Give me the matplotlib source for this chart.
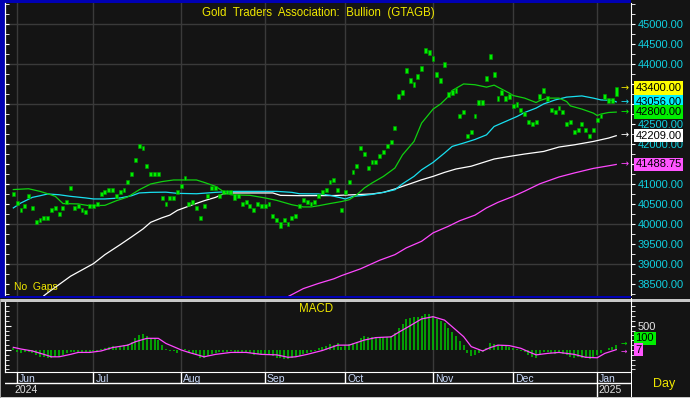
import numpy as np
import pandas as pd
import matplotlib
matplotlib.use('Agg')
import matplotlib.pyplot as plt
from matplotlib import transforms
from matplotlib.patches import Rectangle
from matplotlib.ticker import MultipleLocator, FuncFormatter

plt.rcParams['font.family'] = ['Liberation Sans', 'DejaVu Sans']

# ---- data ----
# daily bars (high / low), one per trading day starting 2024-05-31
bar_high = [40810, 40585, 40410, 40510, 40760, 40460, 40110, 40160, 40210, 40210,
            40410, 40460, 40310, 40460, 40610, 40960, 40460, 40510, 40410, 40360,
            40510, 40510, 40560, 40810, 40860, 40910, 40910, 40760, 40860, 40910,
            41110, 41310, 41660, 42010, 41960, 41510, 41310, 41310, 41310, 40710,
            40560, 40710, 40710, 40860, 41010, 41210, 40560, 40610, 40460, 40210,
            40510, 40760, 40960, 40960, 40760, 40860, 40860, 40860, 40750, 40760,
            40560, 40610, 40510, 40410, 40560, 40510, 40510, 40560, 40260, 40160,
            40050, 40160, 40060, 40210, 40260, 40510, 40660, 40610, 40560, 40610,
            40760, 40860, 40910, 41110, 41160, 40910, 40410, 40860, 41110, 41360,
            41510, 41960, 41810, 41460, 41610, 41610, 41760, 41860, 42010, 42110,
            42460, 43260, 43360, 43910, 43660, 43560, 43760, 43960, 44410, 44360,
            44210, 43810, 43660, 44060, 43310, 43360, 43410, 42760, 42860, 42260,
            42360, 42760, 43110, 43110, 43710, 44260, 43810, 43210, 43360, 43210,
            43260, 43010, 43060, 42910, 42810, 42610, 42560, 42610, 43260, 43410,
            43210, 42910, 42860, 42960, 42860, 42560, 42610, 42360, 42410, 42560,
            42410, 42260, 42410, 42660, 42760, 43260, 43160, 43160, 43425]
bar_low = [40690, 40465, 40290, 40390, 40640, 40340, 39990, 40040, 40090, 40090,
           40290, 40340, 40190, 40340, 40490, 40840, 40340, 40390, 40290, 40240,
           40390, 40390, 40440, 40690, 40740, 40790, 40790, 40640, 40740, 40790,
           40990, 41190, 41540, 41890, 41840, 41390, 41190, 41190, 41190, 40590,
           40440, 40590, 40590, 40740, 40890, 41090, 40440, 40490, 40340, 40090,
           40390, 40640, 40840, 40840, 40640, 40740, 40740, 40740, 40590, 40640,
           40440, 40490, 40390, 40290, 40440, 40390, 40390, 40440, 40140, 40040,
           39900, 40040, 39940, 40090, 40140, 40390, 40540, 40490, 40440, 40490,
           40640, 40740, 40790, 40990, 41040, 40790, 40290, 40740, 40990, 41240,
           41390, 41840, 41690, 41340, 41490, 41490, 41640, 41740, 41890, 41990,
           42340, 43140, 43240, 43790, 43540, 43440, 43640, 43840, 44290, 44240,
           44090, 43690, 43540, 43940, 43190, 43240, 43290, 42640, 42740, 42140,
           42240, 42640, 42990, 42990, 43590, 44140, 43690, 43090, 43240, 43090,
           43140, 42890, 42940, 42790, 42690, 42490, 42440, 42490, 43140, 43290,
           43090, 42790, 42740, 42840, 42740, 42440, 42490, 42240, 42290, 42440,
           42290, 42140, 42290, 42540, 42640, 43140, 43040, 43040, 43200]

# moving averages, read at (bar index, value)
ma_short_idx = [0, 4, 7, 9, 11, 13, 17, 20, 24, 27, 30, 33, 36, 39, 42, 48, 50, 53, 55, 57,
                62, 66, 69, 73, 76, 78, 80, 83, 86, 88, 90, 92, 94, 97, 100, 102, 105, 107,
                110, 112, 114, 115, 118, 121, 124, 126, 128, 130, 131, 134, 137, 138, 140,
                143, 145, 146, 149, 152, 153, 154, 156, 158]
ma_short_val = [40860, 40880, 40815, 40755, 40690, 40510, 40500, 40455, 40465, 40580, 40675,
                40855, 41000, 41060, 41100, 41100, 41040, 40940, 40815, 40730, 40715, 40650,
                40590, 40480, 40425, 40425, 40455, 40510, 40560, 40605, 40730, 40900, 41025,
                41190, 41400, 41730, 42065, 42525, 42875, 43005, 43190, 43340, 43505, 43485,
                43425, 43475, 43375, 43275, 43215, 43150, 43040, 43090, 43150, 43150, 43065,
                42955, 42875, 42775, 42715, 42750, 42790, 42800]

ma_mid_idx = [0, 2, 5, 7, 9, 12, 15, 19, 21, 24, 28, 31, 33, 36, 40, 43, 48, 53, 58, 69,
              73, 75, 80, 83, 86, 87, 89, 92, 94, 97, 100, 102, 105, 107, 110, 113, 115,
              118, 121, 124, 126, 129, 132, 134, 137, 139, 142, 145, 147, 149, 152, 154,
              157, 158]
ma_mid_val = [40400, 40525, 40665, 40705, 40750, 40730, 40690, 40650, 40625, 40625, 40650,
              40705, 40775, 40790, 40795, 40765, 40755, 40790, 40815, 40815, 40790, 40755,
              40750, 40715, 40650, 40625, 40690, 40715, 40740, 40790, 40855, 41005, 41190,
              41355, 41540, 41775, 41940, 42025, 42115, 42230, 42440, 42565, 42690, 42790,
              42900, 43005, 43105, 43175, 43190, 43205, 43150, 43105, 43095, 43056]

ma_long_idx = [8, 9, 15, 21, 24, 28, 31, 34, 36, 39, 41, 43, 47, 50, 53, 55, 57, 68, 70, 75,
               84, 89, 94, 97, 100, 104, 107, 110, 113, 116, 120, 123, 126, 130, 134, 139,
               143, 147, 152, 156, 158]
ma_long_val = [38200, 38275, 38690, 39005, 39230, 39480, 39675, 39875, 40040, 40155, 40220,
               40340, 40480, 40580, 40665, 40750, 40775, 40775, 40715, 40707, 40710, 40730,
               40750, 40790, 40875, 41005, 41105, 41190, 41290, 41375, 41445, 41535, 41625,
               41690, 41750, 41815, 41925, 41980, 42065, 42150, 42209]

ma_200_idx = [72, 76, 80, 84, 86, 91, 96, 100, 103, 107, 110, 114, 117, 121, 124, 127, 131,
              134, 138, 143, 147, 152, 156, 158]
ma_200_val = [38180, 38380, 38510, 38625, 38705, 38875, 39090, 39230, 39400, 39565, 39775,
              39940, 40080, 40220, 40400, 40540, 40690, 40820, 41005, 41175, 41275, 41390,
              41455, 41488.75]

# MACD histogram, one per bar
macd_hist = [35, -35, -70, -50, -35, -55, -100, -150, -140, -170,
             -160, -140, -140, -100, -70, -35, -35, -35, -35, -50,
             -50, -20, -20, 20, 35, 70, 80, 55, 70, 100,
             115, 170, 240, 310, 320, 295, 255, 240, 205, 100,
             20, -20, -20, -70, 5, 20, -70, -90, -100, -170,
             -160, -120, -90, -70, -50, -50, -35, -20, -35, -50,
             -50, -70, -70, -100, -90, -90, -90, -90, -115, -160,
             -170, -185, -185, -170, -150, -115, -90, -70, -50, -20,
             35, 70, 90, 115, 100, 135, 70, 100, 115, 135,
             170, 255, 295, 275, 275, 275, 275, 275, 275, 295,
             345, 445, 530, 640, 665, 680, 680, 705, 735, 750,
             705, 640, 595, 550, 460, 365, 295, 190, 100, -70,
             -125, -100, -70, -35, 35, 150, 115, 100, 100, 100,
             70, 50, 20, -20, -50, -100, -140, -170, -90, -35,
             -50, -70, -90, -70, -90, -100, -140, -160, -150, -170,
             -170, -185, -170, -100, -70, 10, 35, 70, 100]

# MACD signal line, read at (bar index, value)
signal_idx = [0, 2, 5, 8, 10, 12, 15, 17, 20, 23, 26, 30, 32, 35, 38, 40, 43, 44, 46, 50,
              53, 57, 61, 65, 69, 72, 74, 77, 80, 81, 85, 88, 92, 95, 99, 101, 104, 107,
              110, 113, 115, 118, 120, 123, 125, 127, 130, 133, 135, 137, 140, 143, 147,
              150, 153, 155, 158]
signal_val = [55, 20, -20, -90, -140, -140, -90, -50, -50, -20, 50, 100, 170, 240, 240, 135,
              35, 0, -50, -140, -90, -50, -50, -90, -100, -150, -140, -90, -30, -10, 100,
              100, 205, 255, 270, 365, 500, 640, 685, 615, 480, 275, 70, -20, 50, 100, 90,
              35, -35, -100, -70, -50, -90, -150, -160, -70, 7]

last_labels = ['43400.00', '43056.00', '42800.00', '42209.00', '41488.75']
last_values = [43400, 43056, 42800, 42209, 41488.75]
# axis labels fully covered by the last-value boxes in the original
hidden_ticks = [43500, 43000, 41500]

# ---- layout ----
W, H = 690, 398
BG = '#141414'
GRID = '#3a3a3a'
CYAN = '#18e0f0'
MAGENTA = '#ff48ff'
YELLOW = '#f0e800'
BLUE = '#0000b4'

n = len(bar_high)
x = np.arange(n)
dates = pd.bdate_range('2024-05-31', periods=n)
month_idx = [i for i in range(1, n) if dates[i].month != dates[i - 1].month]
month_lbl = [dates[i].strftime('%b') for i in month_idx]
year_idx = [i for i in month_idx if dates[i].month == 1]
XLIM = (-2.18, 161.87)


def pbox(x0, y0, x1, y1):
    return [x0 / W, 1 - y1 / H, (x1 - x0) / W, (y1 - y0) / H]


def frect(x0, y0, x1, y1, color):
    fig.add_artist(Rectangle((x0 / W, 1 - y1 / H), (x1 - x0) / W, (y1 - y0) / H,
                             transform=fig.transFigure, color=color, zorder=-1, lw=0))


def price_fmt(v, p):
    if round(v) in hidden_ticks:
        return ''
    return f'{v:.2f}'


fig = plt.figure(figsize=(W / 100, H / 100), dpi=100, facecolor=BG)
frect(0, 0, 631, 297.7, BLUE)
frect(0, 299, W, 301.5, '#c8c8c8')
frect(0, 396.5, W, H, '#c8c8c8')
frect(0, 299, 1, H, '#a0a0a0')
frect(631, 297.7, 632.2, 396.5, 'white')

# ---- main price panel ----
ax = fig.add_axes(pbox(5, 3, 631, 295.5), facecolor=BG)
ax.set_xlim(*XLIM)
ax.set_ylim(38207, 45532)
for m in month_idx:
    ax.axvline(m, color=GRID, lw=1, zorder=0)
for lvl in range(39000, 45001, 1000):
    ax.axhline(lvl, color=GRID, lw=1, zorder=0)

ax.plot(ma_200_idx, ma_200_val, color=MAGENTA, lw=0.9, zorder=2)
ax.plot(ma_long_idx, ma_long_val, color='white', lw=0.9, zorder=2)
ax.plot(ma_mid_idx, ma_mid_val, color=CYAN, lw=0.9, zorder=2)
ax.plot(ma_short_idx, ma_short_val, color='#10d010', lw=0.9, zorder=2)
hi = np.array(bar_high)
lo = np.array(bar_low)
ax.bar(x, hi - lo, bottom=lo, width=0.75, color='#00f000', edgecolor='#009a00',
       linewidth=0.4, zorder=3)

ax.yaxis.tick_right()
ax.set_yticks(np.arange(38500, 45001, 500))
ax.yaxis.set_minor_locator(MultipleLocator(250))
ax.yaxis.set_major_formatter(FuncFormatter(price_fmt))
ax.tick_params(axis='y', which='both', direction='out', length=3, color='white',
               labelcolor='#10d0e0', labelsize=8, pad=2)
ax.set_xticks([])
for s in ['top', 'bottom']:
    ax.spines[s].set_visible(False)
ax.spines['left'].set_color('white')
ax.spines['right'].set_color('white')

sec = ax.secondary_yaxis('left')
sec.set_yticks(np.arange(38500, 45001, 500))
sec.yaxis.set_minor_locator(MultipleLocator(250))
sec.tick_params(which='both', direction='in', length=3, color='white', labelleft=False)
sec.spines['left'].set_color('white')

blend = transforms.blended_transform_factory(ax.transAxes, ax.transData)
box_colors = [YELLOW, CYAN, '#00f000', 'white', MAGENTA]
box_face = ['#ffff00', '#00f0ff', '#00ee00', '#ffffff', '#ff55ff']
for lbl, v, c, fc in zip(last_labels, last_values, box_colors, box_face):
    ax.text(0.983, v, '→', transform=blend, color=c, fontsize=7, va='center',
            ha='left', family=['DejaVu Sans'], clip_on=False, zorder=10)
    ax.text(1.0072, v, lbl, transform=blend, color='black', fontsize=8, va='center',
            ha='left', clip_on=False, zorder=10,
            bbox=dict(facecolor=fc, edgecolor='none', pad=1.2))

ax.text(0.5, 0.985, 'Gold  Traders  Association:  Bullion  (GTAGB)',
        transform=ax.transAxes, color=YELLOW, fontsize=8.3, ha='center', va='top')
ax.text(0.0145, 0.012, 'No  Gaps', transform=ax.transAxes, color=YELLOW,
        fontsize=7.5, ha='left', va='bottom')

# ---- MACD panel ----
ax2 = fig.add_axes(pbox(5, 301.5, 631, 372.3), facecolor=BG)
ax2.set_xlim(*XLIM)
ax2.set_ylim(-459, 998)
for m in month_idx:
    ax2.axvline(m, color=GRID, lw=1, zorder=0)
ax2.vlines(x, 0, macd_hist, color='#00c800', lw=1.1, zorder=2)
ax2.plot(signal_idx, signal_val, color=MAGENTA, lw=0.9, zorder=3)

ax2.yaxis.tick_right()
ax2.set_yticks([500])
ax2.yaxis.set_minor_locator(MultipleLocator(100))
ax2.tick_params(axis='y', which='both', direction='out', length=3, color='white',
                labelcolor='#e8e8e8', labelsize=8, pad=2)
ax2.set_xticks([])
ax2.spines['top'].set_visible(False)
for s in ['left', 'right', 'bottom']:
    ax2.spines[s].set_color('white')

sec2 = ax2.secondary_yaxis('left')
sec2.set_yticks([0, 500])
sec2.yaxis.set_minor_locator(MultipleLocator(100))
sec2.tick_params(which='major', direction='in', length=4, color='white', labelleft=False)
sec2.tick_params(which='minor', direction='in', length=3, color='white')
sec2.spines['left'].set_color('white')

blend2 = transforms.blended_transform_factory(ax2.transAxes, ax2.transData)
ax2.annotate('→', xy=(0.984, macd_hist[-1]), xycoords=blend2, xytext=(0, 1),
             textcoords='offset points', color='#00e000', fontsize=5.5, va='center',
             family=['DejaVu Sans'], annotation_clip=False, zorder=10)
ax2.annotate('→', xy=(0.984, signal_val[-1]), xycoords=blend2, xytext=(0, -1),
             textcoords='offset points', color=MAGENTA, fontsize=5.5, va='center',
             family=['DejaVu Sans'], annotation_clip=False, zorder=10)
ax2.annotate('100', xy=(1.0072, macd_hist[-1]), xycoords=blend2, xytext=(0, 5),
             textcoords='offset points', color='black', fontsize=8, va='center',
             annotation_clip=False, zorder=10,
             bbox=dict(facecolor='#00ee00', edgecolor='none', pad=1.2))
ax2.annotate('7', xy=(1.0072, signal_val[-1]), xycoords=blend2, xytext=(0, 0),
             textcoords='offset points', color='black', fontsize=8, va='center',
             annotation_clip=False, zorder=10,
             bbox=dict(facecolor='#ff55ff', edgecolor='none', pad=1.2))
ax2.text(0.497, 0.9, 'MACD', transform=ax2.transAxes, color=YELLOW, fontsize=8.3,
         ha='center', va='center')

# ---- date strip ----
ax3 = fig.add_axes(pbox(5, 372.3, 631, 396.5), facecolor=BG)
ax3.set_xlim(*XLIM)
ax3.set_ylim(0, 1)
ax3.axis('off')
mid = (396.5 - 383.3) / (396.5 - 372.3)
ax3.axhline(mid, color='white', lw=1)
ax3.vlines(month_idx, mid, 1, color='white', lw=1)
ax3.vlines(year_idx, 0, mid, color='white', lw=1)
for m, lbl in zip(month_idx, month_lbl):
    ax3.text(m + 0.5, 0.74, lbl, color='#c8d8f8', fontsize=7.5, ha='left', va='center')
ax3.text(0.2, 0.27, str(dates[0].year), color='#e0e0e0', fontsize=7.5, ha='left',
         va='center')
for y in year_idx:
    ax3.text(y + 0.3, 0.27, str(dates[y].year), color='#e0e0e0', fontsize=7.5,
             ha='left', va='center')

fig.text(653 / W, 1 - 384 / H, 'Day', color=YELLOW, fontsize=9, ha='left', va='center')

fig.savefig('out.png', dpi=100, facecolor=BG)
